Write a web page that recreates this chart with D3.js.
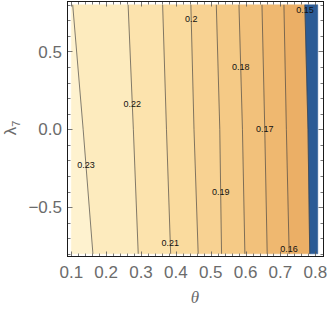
<!DOCTYPE html>
<html>
<head>
<meta charset="utf-8">
<script src="https://cdn.jsdelivr.net/npm/d3@7"></script>
<style>
  html, body { margin: 0; padding: 0; background: #fff; }
  svg { display: block; }
</style>
</head>
<body>
<svg id="chart" width="332" height="310"></svg>
<script>
// contour levels, left to right
const levels = [0.23, 0.22, 0.21, 0.2, 0.19, 0.18, 0.17, 0.16, 0.15]
// lambda rows where each contour was read
const lambdaRows = [0.8, 0, -0.8]
// theta of each contour at those rows
const thetaTop = [0.104, 0.263, 0.362, 0.443, 0.516, 0.581, 0.647, 0.710, 0.770]
const thetaMid = [0.134, 0.278, 0.373, 0.452, 0.526, 0.591, 0.655, 0.717, 0.779]
const thetaBot = [0.162, 0.292, 0.385, 0.464, 0.531, 0.598, 0.662, 0.725, 0.784]
// where the labels sit along each contour (lambda)
const labelLambda = [-0.229, 0.161, -0.729, 0.709, -0.401, 0.402, 0.0, -0.771, 0.767]
// plotted region
const thetaRange = [0.1, 0.807]
const lambdaRange = [-0.8, 0.8]
// band colours, leftmost (> 0.23) to rightmost (< 0.15)
const bandColors = ['#fef2cf', '#fdebbe', '#fce3ad', '#fadb9e', '#f8d292', '#f5ca86', '#f2c17b', '#efb870', '#ebaf66', '#2b5b95']
const xTicks = [0.1, 0.2, 0.3, 0.4, 0.5, 0.6, 0.7, 0.8]
const yTicks = [-0.5, 0, 0.5]

const frame = {left: 67, right: 323, top: 1, bottom: 256}

const svg = d3.select('#chart')
const x = d3.scaleLinear().domain([0.1, 0.8]).range([71.3, 315.3])
const y = d3.scaleLinear().domain([-0.8, 0.8]).range([253.8, 4.8])

// each contour as a list of [theta, lambda]
let lines = levels.map((lv, i) => [thetaTop[i], thetaMid[i], thetaBot[i]].map((t, j) => [t, lambdaRows[j]]))
let leftEdge = lambdaRows.map(l => [thetaRange[0], l])
let rightEdge = lambdaRows.map(l => [thetaRange[1], l])
let bounds = [leftEdge].concat(lines).concat([rightEdge])

let g = svg.append('g')
let bands = []
for (let i = 0; i < bounds.length - 1; i++) {
  bands.push(bounds[i].concat(bounds[i + 1].slice().reverse()))
}
g.selectAll('polygon.band').data(bands).enter().append('polygon')
  .attr('class', 'band')
  .attr('points', d => d.map(p => x(p[0]) + ',' + y(p[1])).join(' '))
  .attr('fill', (d, i) => bandColors[i])
  .attr('stroke', (d, i) => bandColors[i])
  .attr('stroke-width', 0.5)

let line = d3.line().x(d => x(d[0])).y(d => y(d[1]))
g.selectAll('path.contour').data(lines).enter().append('path')
  .attr('class', 'contour')
  .attr('d', line)
  .attr('fill', 'none')
  .attr('stroke', '#3a3a3a')
  .attr('stroke-opacity', 0.8)
  .attr('stroke-width', 0.8)

// theta on a contour at a given lambda
function thetaAt(pts, l) {
  for (let j = 0; j < pts.length - 1; j++) {
    let a = pts[j], b = pts[j + 1]
    if ((l <= a[1] && l >= b[1]) || (l >= a[1] && l <= b[1])) {
      let t = (l - a[1]) / (b[1] - a[1])
      return a[0] + t * (b[0] - a[0])
    }
  }
  return pts[0][0]
}

g.selectAll('text.clabel').data(levels).enter().append('text')
  .attr('class', 'clabel')
  .attr('x', (d, i) => x(thetaAt(lines[i], labelLambda[i])))
  .attr('y', (d, i) => y(labelLambda[i]))
  .attr('dy', '0.35em')
  .attr('text-anchor', 'middle')
  .attr('font-family', 'Liberation Sans, Arial, sans-serif')
  .attr('font-size', 9)
  .attr('fill', '#111')
  .text(d => String(d))

// frame
svg.append('rect')
  .attr('x', frame.left + 0.5).attr('y', frame.top + 0.5)
  .attr('width', frame.right - frame.left).attr('height', frame.bottom - frame.top)
  .attr('fill', 'none').attr('stroke', '#1a1a1a').attr('stroke-width', 1)

// ticks on all four sides, pointing in
let xMinor = d3.range(0.1, 0.81, 0.02).filter(v => xTicks.every(t => Math.abs(t - v) > 1e-6))
let yMinor = d3.range(-0.8, 0.81, 0.1).filter(v => yTicks.every(t => Math.abs(t - v) > 1e-6))
let tickG = svg.append('g').attr('stroke', '#555').attr('stroke-width', 0.8)
function xt(vals, len) {
  vals.forEach(v => {
    let px = Math.round(x(v)) + 0.5
    tickG.append('line').attr('x1', px).attr('x2', px).attr('y1', frame.bottom).attr('y2', frame.bottom - len)
    tickG.append('line').attr('x1', px).attr('x2', px).attr('y1', frame.top + 1).attr('y2', frame.top + 1 + len)
  })
}
function yt(vals, len) {
  vals.forEach(v => {
    let py = Math.round(y(v)) + 0.5
    tickG.append('line').attr('x1', frame.left + 1).attr('x2', frame.left + 1 + len).attr('y1', py).attr('y2', py)
    tickG.append('line').attr('x1', frame.right).attr('x2', frame.right - len).attr('y1', py).attr('y2', py)
  })
}
xt(xTicks, 4.5); xt(xMinor, 2.5)
yt(yTicks, 4.5); yt(yMinor, 2.5)

let fmt = d3.format('.1f')
svg.append('g').selectAll('text').data(xTicks).enter().append('text')
  .attr('x', d => x(d)).attr('y', 278)
  .attr('text-anchor', 'middle')
  .attr('font-family', 'Liberation Sans, Arial, sans-serif')
  .attr('font-size', 17).attr('fill', '#6b6b6b')
  .text(d => fmt(d))
svg.append('g').selectAll('text').data(yTicks).enter().append('text')
  .attr('x', 62).attr('y', d => y(d)).attr('dy', '0.36em')
  .attr('text-anchor', 'end')
  .attr('font-family', 'Liberation Sans, Arial, sans-serif')
  .attr('font-size', 17).attr('fill', '#6b6b6b')
  .text(d => fmt(d))

svg.append('text')
  .attr('x', 195).attr('y', 303)
  .attr('text-anchor', 'middle')
  .attr('font-family', 'Liberation Serif, DejaVu Serif, serif')
  .attr('font-style', 'italic')
  .attr('font-size', 17).attr('fill', '#6b6b6b')
  .text('θ')

let yl = svg.append('text')
  .attr('transform', 'translate(16,128) rotate(-90)')
  .attr('text-anchor', 'middle')
  .attr('font-family', 'Liberation Sans, Arial, sans-serif')
  .attr('font-size', 17).attr('fill', '#6b6b6b')
yl.append('tspan').text('λ')
yl.append('tspan').attr('font-size', 11).attr('dy', 4).text('7')
</script>
</body>
</html>
